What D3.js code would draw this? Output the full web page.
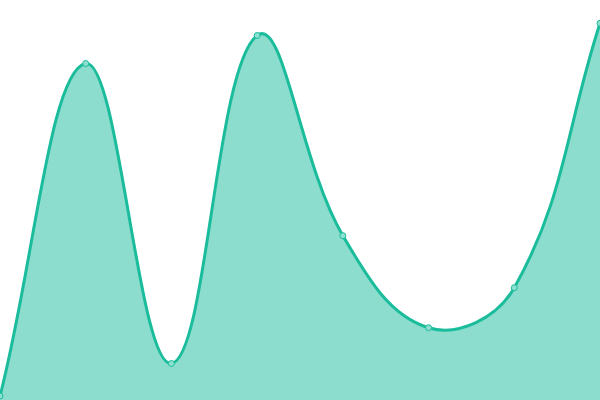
<!DOCTYPE html>
<html>
<head>
<meta charset="utf-8">
<script src="https://cdn.jsdelivr.net/npm/d3@7"></script>
<style>
  html, body { margin: 0; padding: 0; background: #fff; }
  #chart { width: 600px; height: 400px; }
</style>
</head>
<body>
<div id="chart"></div>
<script>
// data
const categories = [0, 1, 2, 3, 4, 5, 6, 7];
const values = [4, 336.5, 36.5, 364.5, 164.3, 72.3, 112.3, 376.7];

const width = 600, height = 400;
const tension = 0.4;

const data = categories.map((c, i) => ({ x: c, y: values[i] }));

const xScale = d3.scaleLinear()
    .domain([0, categories.length - 1])
    .range([0, width]);

const yScale = d3.scaleLinear()
    .domain([0, 400])
    .range([height, 0]);

// spline curve: control points pulled along the neighbour chord,
// weighted by the distance to each neighbour
function SplineCurve(context) { this._context = context; }
SplineCurve.prototype = {
    areaStart: function() { this._line = 0; },
    areaEnd: function() { this._line = NaN; },
    lineStart: function() { this._x = []; this._y = []; },
    point: function(x, y) { this._x.push(+x); this._y.push(+y); },
    lineEnd: function() {
        const x = this._x, y = this._y, n = x.length;
        const ctx = this._context;
        if (n) {
            this._line ? ctx.lineTo(x[0], y[0]) : ctx.moveTo(x[0], y[0]);
            if (n === 2) {
                ctx.lineTo(x[1], y[1]);
            } else if (n > 2) {
                const cp = [];
                for (let i = 0; i < n; i++) {
                    const pi = Math.max(i - 1, 0), ni = Math.min(i + 1, n - 1);
                    const d01 = Math.hypot(x[i] - x[pi], y[i] - y[pi]);
                    const d12 = Math.hypot(x[ni] - x[i], y[ni] - y[i]);
                    let s01 = d01 / (d01 + d12), s12 = d12 / (d01 + d12);
                    if (isNaN(s01)) s01 = 0;
                    if (isNaN(s12)) s12 = 0;
                    const fa = tension * s01, fb = tension * s12;
                    cp.push({
                        px: x[i] - fa * (x[ni] - x[pi]),
                        py: y[i] - fa * (y[ni] - y[pi]),
                        nx: x[i] + fb * (x[ni] - x[pi]),
                        ny: y[i] + fb * (y[ni] - y[pi])
                    });
                }
                for (let i = 1; i < n; i++) {
                    ctx.bezierCurveTo(cp[i - 1].nx, cp[i - 1].ny, cp[i].px, cp[i].py, x[i], y[i]);
                }
            }
        }
        if (this._line || (this._line !== 0 && n === 1)) ctx.closePath();
        this._line = 1 - this._line;
        this._x = this._y = null;
    }
};
const curveSpline = context => new SplineCurve(context);

const svg = d3.select("#chart")
    .append("svg")
    .attr("width", width)
    .attr("height", height);

// filled area under the curve
const area = d3.area()
    .x(d => xScale(d.x))
    .y0(height)
    .y1(d => yScale(d.y))
    .curve(curveSpline);

svg.append("path")
    .datum(data)
    .attr("d", area)
    .attr("fill", "#1abc9c")
    .attr("fill-opacity", 0.5);

// the line on top
const line = d3.line()
    .x(d => xScale(d.x))
    .y(d => yScale(d.y))
    .curve(curveSpline);

svg.append("path")
    .datum(data)
    .attr("d", line)
    .attr("fill", "none")
    .attr("stroke", "#1abc9c")
    .attr("stroke-width", 3);

// point markers
svg.selectAll("circle.pt")
    .data(data)
    .enter()
    .append("circle")
    .attr("class", "pt")
    .attr("cx", d => xScale(d.x))
    .attr("cy", d => yScale(d.y))
    .attr("r", 3)
    .attr("fill", "#8de0cf")
    .attr("stroke", "#1abc9c")
    .attr("stroke-width", 1);
</script>
</body>
</html>
